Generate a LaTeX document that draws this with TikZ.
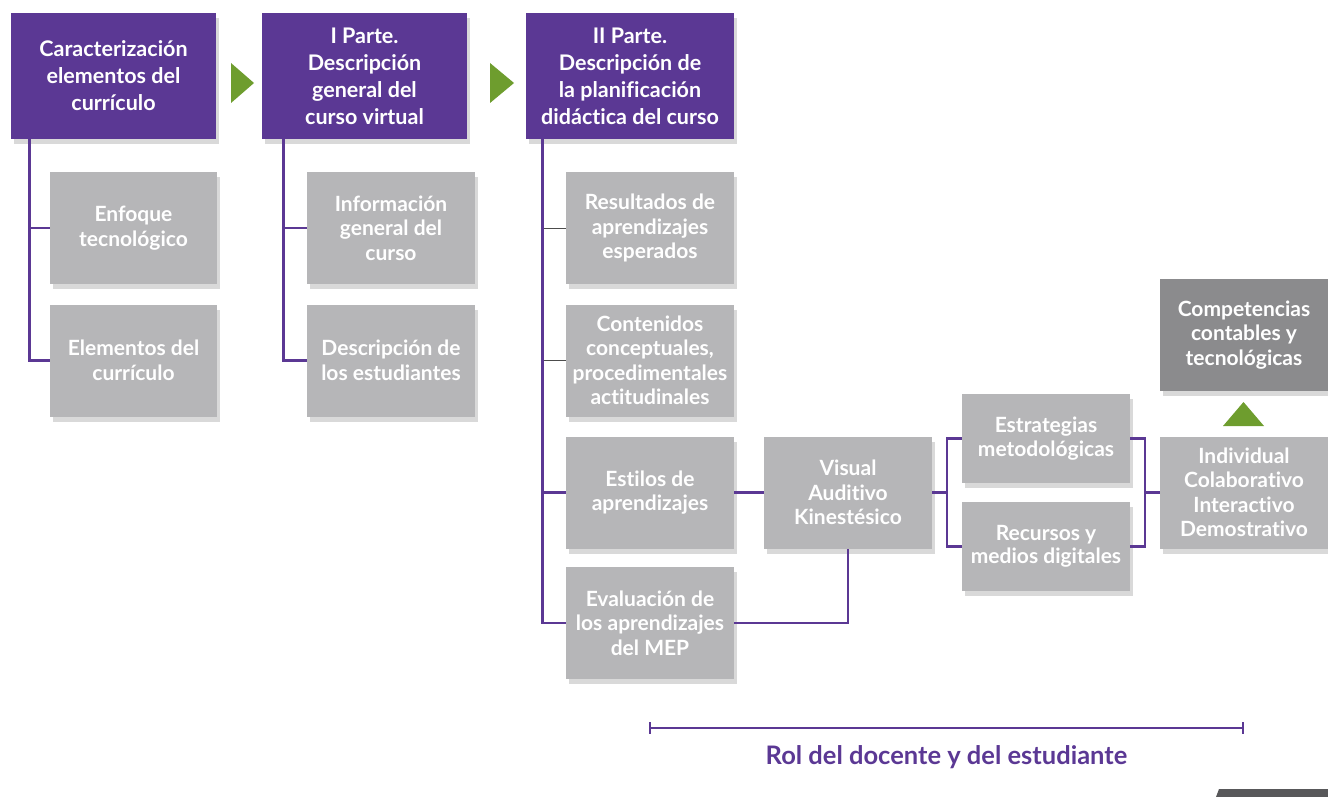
\documentclass[tikz,border=0pt]{standalone}
\usepackage{fontspec}
\setmainfont{Lato}[Ligatures=NoCommon]
\usetikzlibrary{shadows,calc}
\definecolor{pur}{HTML}{5B3894}
\definecolor{lgray}{HTML}{B6B6B8}
\definecolor{dgray}{HTML}{8B8B8D}
\definecolor{grn}{HTML}{6E9D2E}
\definecolor{tab}{HTML}{58585A}
\tikzset{
 base/.style={inner sep=0pt, align=center, text=white, font=\fontsize{21}{24.5}\selectfont\bfseries,
   drop shadow={shadow xshift=3pt, shadow yshift=-5pt, opacity=0.3}},
 headbox/.style={base, fill=pur, minimum width=205pt, minimum height=126pt, font=\fontsize{21.5}{27}\selectfont\bfseries},
 subbox/.style={base, fill=lgray, minimum width=168pt, minimum height=112pt},
 smallbox/.style={base, fill=lgray, minimum width=168pt, minimum height=89pt, font=\fontsize{21}{23.5}\selectfont\bfseries},
 conn/.style={draw=pur, line width=2.7pt},
 thinconn/.style={draw=black!70, line width=1pt},
 arrowtri/.style={fill=grn}
}
\begin{document}
\begin{tikzpicture}[x=1pt,y=-1pt]
\useasboundingbox (0,0) rectangle (1328,797);

% header boxes
\node[headbox] (A) at (113.5,76) {Caracterización\\elementos del\\currículo};
\node[headbox] (B) at (364.5,76) {I Parte.\\Descripción\\general del\\curso virtual};
\node[headbox, minimum width=208pt] (C) at (630,76) {II Parte.\\Descripción de\\la planificación\\didáctica del curso};

% green arrows
\fill[arrowtri] (231,63) -- (254,83) -- (231,103) -- cycle;
\fill[arrowtri] (490,63) -- (514,83) -- (490,103) -- cycle;

% column A
\node[subbox, minimum width=167pt] (A1) at (133.5,228) {Enfoque\\tecnológico};
\node[subbox, minimum width=167pt] (A2) at (133.5,360.5) {Elementos del\\currículo};
% column B
\node[subbox] (B1) at (391,228) {Información\\general del\\curso};
\node[subbox] (B2) at (391,360.5) {Descripción de\\los estudiantes};
% column C
\node[subbox] (C1) at (650,228) {Resultados de\\aprendizajes\\esperados};
\node[subbox] (C2) at (650,360.5) {Contenidos\\conceptuales,\\procedimentales\\actitudinales};
\node[subbox] (C3) at (650,492.5) {Estilos de\\aprendizajes};
\node[subbox] (C4) at (650,623) {Evaluación de\\los aprendizajes\\del MEP};

\node[subbox] (V) at (848,492.5) {Visual\\Auditivo\\Kinestésico};
\node[smallbox] (E) at (1046,438.5) {Estrategias\\metodológicas};
\node[smallbox] (R) at (1046,546.5) {Recursos y\\medios digitales};
\node[subbox] (I) at (1244,492.5) {Individual\\Colaborativo\\Interactivo\\Demostrativo};
\node[subbox, fill=dgray] (K) at (1244,335) {Competencias\\contables y\\tecnológicas};

\fill[arrowtri] (1223,426) -- (1264,426) -- (1243.5,402) -- cycle;

% connectors
\draw[conn] ([xshift=19pt]A.south west) |- (A1.west);
\draw[conn] ([xshift=19pt]A.south west) |- (A2.west);
\draw[conn] ([xshift=22pt]B.south west) |- (B1.west);
\draw[conn] ([xshift=22pt]B.south west) |- (B2.west);
\draw[conn] ([xshift=17pt]C.south west) |- (C4.west);
\draw[thinconn] ([xshift=18pt]C.south west |- C1.west) -- (C1.west);
\draw[thinconn] ([xshift=18pt]C.south west |- C2.west) -- (C2.west);
\draw[conn] ([xshift=17pt]C.south west |- C3.west) -- (C3.west);
\draw[conn] (C3.east) -- (V.west);
\draw[conn] (C4.east) -| (V.south);

\coordinate (bl) at (947,492.5);
\coordinate (br) at (1145,492.5);
\draw[conn] (V.east) -- (bl);
\draw[conn] (E.west) -| (bl) |- (R.west);
\draw[conn] (E.east) -| (br) |- (R.east);
\draw[conn] (br) -- (I.west);

% bottom range
\coordinate (r1) at (650,728);
\coordinate (r2) at (1243,728);
\draw[conn] (r1) -- (r2);
\draw[conn] ($(r1)+(0,-6)$) -- ($(r1)+(0,6)$);
\draw[conn] ($(r2)+(0,-6)$) -- ($(r2)+(0,6)$);
\node[text=pur, font=\fontsize{25.5}{28}\selectfont\bfseries] (rol) at (946.5,757) {Rol del docente y del estudiante};

% page tab
\fill[tab] (1216,797) -- (1219,789) -- (1328,789) -- (1328,797) -- cycle;
\end{tikzpicture}
\end{document}
